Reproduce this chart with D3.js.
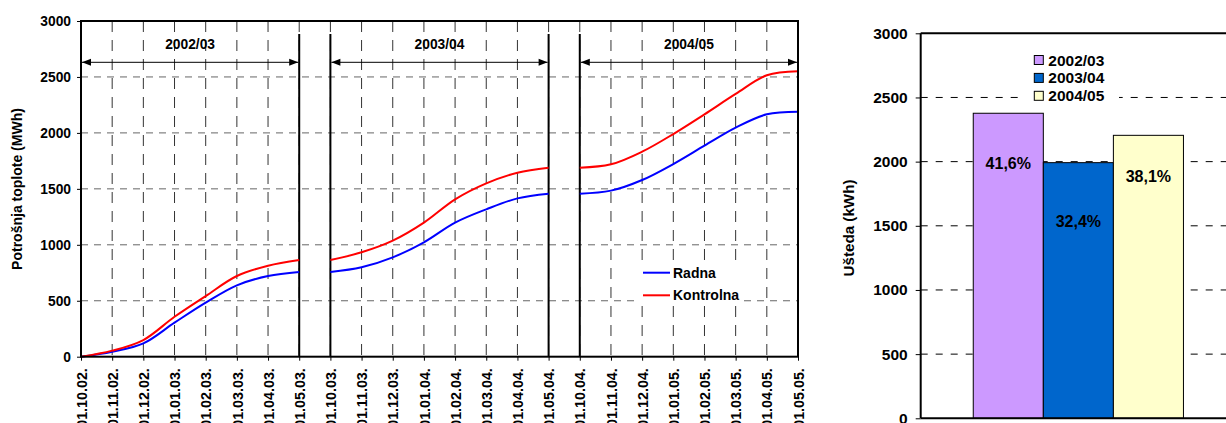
<!DOCTYPE html>
<html><head><meta charset="utf-8">
<script src="https://cdn.jsdelivr.net/npm/d3@7"></script>
<style>
html,body{margin:0;padding:0;background:#fff;}
svg{display:block;font-family:"Liberation Sans",Arial,sans-serif;font-weight:bold;}
</style></head>
<body>
<svg id="c" width="1226" height="423"></svg>
<script>
// ---------- data ----------
const categories = ["01.10.02.","01.11.02.","01.12.02.","01.01.03.","01.02.03.","01.03.03.","01.04.03.","01.05.03.",
  "01.10.03.","01.11.03.","01.12.03.","01.01.04.","01.02.04.","01.03.04.","01.04.04.","01.05.04.",
  "01.10.04.","01.11.04.","01.12.04.","01.01.05.","01.02.05.","01.03.05.","01.04.05.","01.05.05."];
const radna =     [0, 45, 119, 304, 483, 638, 721, 757,
                   757, 799, 888, 1022, 1198, 1317, 1415, 1457,
                   1457, 1484, 1579, 1722, 1886, 2047, 2166, 2190];
const kontrolna = [0, 54, 149, 357, 542, 721, 813, 864,
                   864, 933, 1037, 1198, 1406, 1549, 1644, 1689,
                   1689, 1719, 1832, 1990, 2166, 2348, 2515, 2551];
const seasons = ["2002/03","2003/04","2004/05"];
const yTicksLeft = [0,500,1000,1500,2000,2500,3000];
const savings = [2377, 1992, 2205];
const savingsPct = ["41,6%","32,4%","38,1%"];
const barColors = ["#CC99FF","#0066CC","#FFFFCC"];
const yTicksRight = [0,500,1000,1500,2000,2500,3000];
const legendLines = ["Radna","Kontrolna"];

const svg = d3.select("#c");

// ---------- left chart ----------
const L = {left:81, right:798, top:21, bottom:356.7};
const x = d3.scalePoint().domain(categories).range([L.left, L.right]);
const y = d3.scaleLinear().domain([0,3000]).range([L.bottom, L.top]);
const gL = svg.append("g");

// horizontal grid
gL.selectAll("line.hg").data(yTicksLeft.filter(v=>v>0 && v<3000)).enter().append("line")
  .attr("x1",L.left).attr("x2",L.right).attr("y1",d=>y(d)).attr("y2",d=>y(d))
  .attr("stroke","#666").attr("stroke-width",1).attr("stroke-dasharray","7,6");
// vertical grid
gL.selectAll("line.vg").data(categories).enter().append("line")
  .attr("x1",d=>x(d)).attr("x2",d=>x(d)).attr("y1",L.top).attr("y2",L.bottom)
  .attr("stroke","#333").attr("stroke-width",1).attr("stroke-dasharray","11,8");

// separators
const sepIdx = [7,8,15,16];
gL.selectAll("line.sep").data(sepIdx).enter().append("line")
  .attr("x1",d=>x(categories[d])).attr("x2",d=>x(categories[d]))
  .attr("y1",34).attr("y2",L.bottom).attr("stroke","#000").attr("stroke-width",2);

// season arrows + labels
seasons.forEach((s,k)=>{
  const x1 = x(categories[8*k]) + 1, x2 = x(categories[8*k+7]) - 1, ya = 62.3;
  gL.append("line").attr("x1",x1).attr("x2",x2).attr("y1",ya).attr("y2",ya).attr("stroke","#000").attr("stroke-width",1);
  gL.append("path").attr("d",`M${x1},${ya}L${x1+9},${ya-3.5}L${x1+9},${ya+3.5}Z`).attr("fill","#000");
  gL.append("path").attr("d",`M${x2},${ya}L${x2-9},${ya-3.5}L${x2-9},${ya+3.5}Z`).attr("fill","#000");
  gL.append("text").attr("x",(x1+x2)/2).attr("y",49).attr("text-anchor","middle")
    .attr("font-size","13.8px").text(s);
});

// lines per season
const line = d3.line().x(d=>x(d.c)).y(d=>y(d.v)).curve(d3.curveCatmullRom.alpha(0.5));
[[radna,"#0000FF"],[kontrolna,"#FF0000"]].forEach(([arr,col])=>{
  for(let k=0;k<3;k++){
    const seg = d3.range(8*k,8*k+8).map(i=>({c:categories[i],v:arr[i]}));
    gL.append("path").datum(seg).attr("d",line).attr("fill","none")
      .attr("stroke",col).attr("stroke-width",2);
  }
});

// frame
gL.append("rect").attr("x",L.left).attr("y",L.top).attr("width",L.right-L.left).attr("height",L.bottom-L.top)
  .attr("fill","none").attr("stroke","#000").attr("stroke-width",2);

// y axis
const yAx = gL.append("g").attr("transform",`translate(${L.left},0)`)
  .call(d3.axisLeft(y).tickValues(yTicksLeft).tickSize(4).tickPadding(6).tickFormat(d3.format("d")));
yAx.select(".domain").remove();
yAx.selectAll("line").attr("stroke","#000");
yAx.selectAll("text").attr("font-size","13.8px").attr("font-family","Liberation Sans, Arial, sans-serif").attr("font-weight","bold").attr("fill","#000");

// x axis
const xAx = gL.append("g").attr("transform",`translate(0,${L.bottom})`)
  .call(d3.axisBottom(x).tickSize(4).tickPadding(0));
xAx.select(".domain").remove();
xAx.selectAll("line").attr("stroke","#000");
xAx.selectAll("text").attr("font-size","14.3px").attr("font-family","Liberation Sans, Arial, sans-serif").attr("font-weight","bold").attr("fill","#000")
  .attr("text-anchor","end").attr("transform","translate(0,11.5) rotate(-90)").attr("x",0).attr("y",0).attr("dy","0.36em");

// y title
svg.append("text").attr("transform","translate(17,189) rotate(-90)").attr("text-anchor","middle")
  .attr("dy","0.36em").attr("font-size","14px").text("Potrošnja toplote (MWh)");

// legend
const lg = svg.append("g");
lg.append("rect").attr("x",640).attr("y",262).attr("width",104).attr("height",41).attr("fill","#fff");
legendLines.forEach((t,i)=>{
  const yy = 272.7 + i*22.6;
  lg.append("line").attr("x1",643).attr("x2",670).attr("y1",yy).attr("y2",yy)
    .attr("stroke",i===0?"#0000FF":"#FF0000").attr("stroke-width",2);
  lg.append("text").attr("x",673).attr("y",yy).attr("dy","0.36em").attr("font-size","14px").text(t);
});

// ---------- right chart ----------
const R = {left:920.7, right:1236, top:33.3, bottom:418.3};
const yr = d3.scaleLinear().domain([0,3000]).range([R.bottom, R.top]);
const x0 = d3.scaleBand().domain(["Ušteda"]).range([R.left, R.right]).paddingInner(0).paddingOuter(0.25);
const x1 = d3.scaleBand().domain(seasons).range([0, x0.bandwidth()]).padding(0);
const gR = svg.append("g");

gR.selectAll("line.hg").data(yTicksRight.filter(v=>v>0 && v<3000)).enter().append("line")
  .attr("x1",R.left).attr("x2",R.right).attr("y1",d=>yr(d)).attr("y2",d=>yr(d))
  .attr("stroke","#000").attr("stroke-width",1).attr("stroke-dasharray","7,8");

const bx = i => x0("Ušteda") + x1(seasons[i]);
gR.selectAll("rect.bar").data(savings).enter().append("rect")
  .attr("x",(d,i)=>bx(i)).attr("width",x1.bandwidth())
  .attr("y",d=>yr(d)).attr("height",d=>R.bottom-yr(d))
  .attr("fill",(d,i)=>barColors[i]).attr("stroke","#000").attr("stroke-width",1);

const labelDrop = [50, 59, 41];
gR.selectAll("text.pct").data(savingsPct).enter().append("text")
  .attr("x",(d,i)=>bx(i)+x1.bandwidth()/2).attr("y",(d,i)=>yr(savings[i])+labelDrop[i])
  .attr("dy","0.36em").attr("text-anchor","middle").attr("font-size","16px").attr("fill","#000").text(d=>d);

// frame
gR.append("line").attr("x1",R.left).attr("x2",R.right).attr("y1",R.top).attr("y2",R.top).attr("stroke","#000").attr("stroke-width",2);
gR.append("line").attr("x1",R.left).attr("x2",R.right).attr("y1",R.bottom).attr("y2",R.bottom).attr("stroke","#000").attr("stroke-width",2);
gR.append("line").attr("x1",R.left).attr("x2",R.left).attr("y1",R.top).attr("y2",R.bottom).attr("stroke","#000").attr("stroke-width",2);

const yrAx = gR.append("g").attr("transform",`translate(${R.left},0)`)
  .call(d3.axisLeft(yr).tickValues(yTicksRight).tickSize(5).tickPadding(8).tickFormat(d3.format("d")));
yrAx.select(".domain").remove();
yrAx.selectAll("line").attr("stroke","#000");
yrAx.selectAll("text").attr("font-size","15.5px").attr("font-family","Liberation Sans, Arial, sans-serif").attr("font-weight","bold").attr("fill","#000");

svg.append("text").attr("transform","translate(848.3,228) rotate(-90)").attr("text-anchor","middle")
  .attr("dy","0.36em").attr("font-size","15.2px").text("Ušteda (kWh)");

// legend
const lr = svg.append("g");
lr.append("rect").attr("x",1018).attr("y",49).attr("width",101).attr("height",57).attr("fill","#fff");
seasons.forEach((s,i)=>{
  const yy = 60 + i*17.9;
  lr.append("rect").attr("x",1034.3).attr("y",yy-4.5).attr("width",9).attr("height",9)
    .attr("fill",barColors[i]).attr("stroke","#000").attr("stroke-width",1);
  lr.append("text").attr("x",1048.3).attr("y",yy).attr("dy","0.36em").attr("font-size","15.5px").text(s);
});
</script>
</body></html>
